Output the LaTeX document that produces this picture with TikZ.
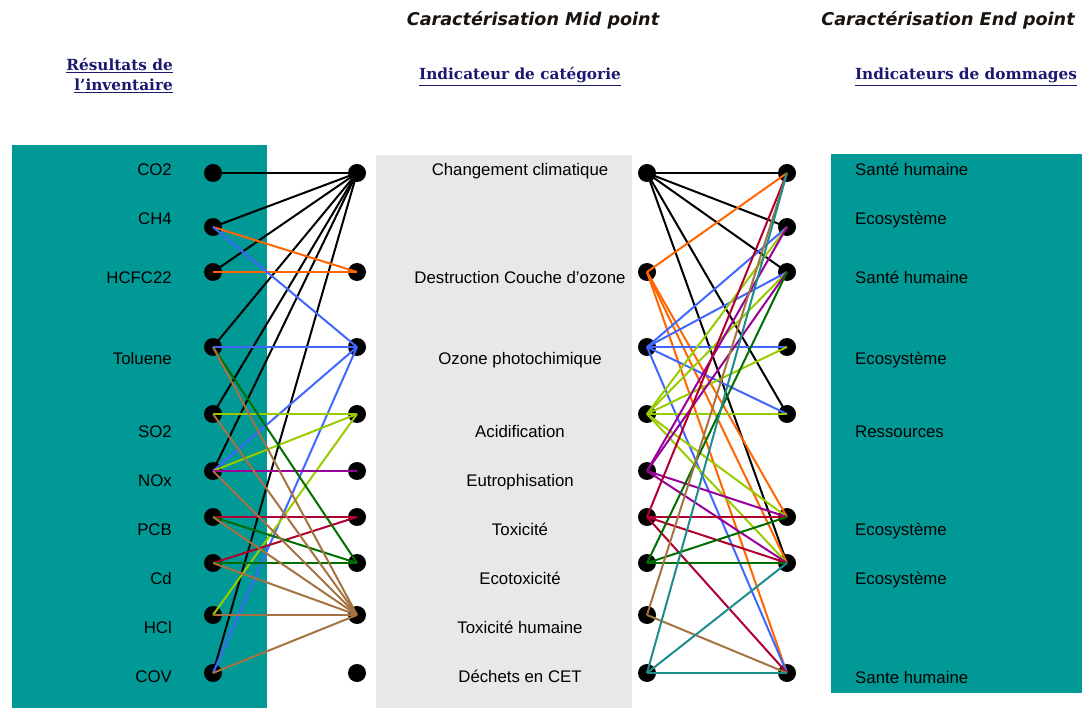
\documentclass[tikz,border=0pt]{standalone}
\usepackage{fontspec}
\setmainfont{Liberation Sans}
\newfontfamily\titlefont{DejaVu Sans}
\newfontfamily\headfont{DejaVu Serif}
\definecolor{tealbox}{RGB}{0,153,150}
\definecolor{greybox}{RGB}{232,232,232}
\definecolor{corange}{RGB}{255,102,0}
\definecolor{cblue}{RGB}{64,104,255}
\definecolor{cyg}{RGB}{153,204,0}
\definecolor{cpurple}{RGB}{153,0,153}
\definecolor{ccrim}{RGB}{176,0,48}
\definecolor{cdkgreen}{RGB}{0,110,0}
\definecolor{cbrown}{RGB}{165,115,65}
\definecolor{cteal}{RGB}{30,140,140}
\definecolor{navy}{RGB}{25,25,112}
\definecolor{titlecol}{RGB}{25,20,15}
\begin{document}
\begin{tikzpicture}[x=1pt,y=-1pt,
  dot/.style={circle, fill=black, minimum size=18pt, inner sep=0pt},
  lbl/.style={font=\fontsize{16.8}{20}\selectfont, inner sep=0pt},
  conn/.style={line width=2pt},
  titlestyle/.style={font=\titlefont\bfseries\itshape\fontsize{17.6}{20}\selectfont, text=titlecol, inner sep=0pt, anchor=base},
  headstyle/.style={font=\headfont\bfseries\fontsize{15.3}{18}\selectfont, text=navy, inner sep=0pt, anchor=base}]
\useasboundingbox (0,0) rectangle (1082,708);
% boxes
\fill[tealbox] (12,145) rectangle (267,708);
\fill[greybox] (376,155) rectangle (632,708);
\fill[tealbox] (831,154) rectangle (1082,693);
% headers
\node[titlestyle] (t1) at (533,26) {Caractérisation Mid point};
\node[titlestyle] (t2) at (948,26) {Caractérisation End point};
\node[headstyle] (h1) at (520,80) {\underline{Indicateur de catégorie}};
\node[headstyle] (h2) at (966,80) {\underline{Indicateurs de dommages}};
\node[headstyle, anchor=base east] (h3) at (173,71) {\underline{Résultats de}};
\node[headstyle, anchor=base east] (h4) at (173,91) {\underline{l’inventaire}};
% dots
\foreach \i/\y in {1/173,2/227,3/272,4/347,5/414,6/471,7/517,8/563,9/615,10/673}
  \node[dot] (L\i) at (213,\y) {};
\foreach \i/\y in {1/173,2/272,3/347,4/414,5/471,6/517,7/563,8/615,9/673}{
  \node[dot] (ML\i) at (357,\y) {};
  \node[dot] (M\i) at (647,\y) {};}
\foreach \i/\y in {1/173,2/227,3/272,4/347,5/414,6/517,7/563,8/673}
  \node[dot] (R\i) at (787,\y) {};
% labels
\foreach \i/\y/\t in {1/176/CO2,2/225/CH4,3/284/HCFC22,4/365/Toluene,5/438/SO2,6/486/NOx,7/535/PCB,8/584/Cd,9/633/HCl,10/682/COV}
  \node[lbl, anchor=base east] (tL\i) at (172,\y) {\t};
\foreach \i/\y/\t in {1/176/Changement climatique,2/284/Destruction Couche d’ozone,3/365/Ozone photochimique,4/438/Acidification,5/486/Eutrophisation,6/535/Toxicité,7/584/Ecotoxicité,8/633/Toxicité humaine,9/682/Déchets en CET}
  \node[lbl, anchor=base] (tM\i) at (520,\y) {\t};
\foreach \i/\y/\t in {1/176/Santé humaine,2/225/Ecosystème,3/284/Santé humaine,4/365/Ecosystème,5/438/Ressources,6/535/Ecosystème,7/584/Ecosystème,8/683/Sante humaine}
  \node[lbl, anchor=base west] (tR\i) at (855,\y) {\t};
% left connections
\foreach \a in {1,2,3,4,5,6,10} \draw[conn,black] (L\a.center) -- (ML1.center);
\foreach \a in {2,3} \draw[conn,corange] (L\a.center) -- (ML2.center);
\foreach \a in {2,4,6,10} \draw[conn,cblue] (L\a.center) -- (ML3.center);
\foreach \a in {5,6,9} \draw[conn,cyg] (L\a.center) -- (ML4.center);
\foreach \a in {6} \draw[conn,cpurple] (L\a.center) -- (ML5.center);
\foreach \a in {7,8} \draw[conn,ccrim] (L\a.center) -- (ML6.center);
\foreach \a in {4,7,8} \draw[conn,cdkgreen] (L\a.center) -- (ML7.center);
\foreach \a in {4,5,6,7,8,9,10} \draw[conn,cbrown] (L\a.center) -- (ML8.center);
% right connections
\foreach \b in {1,2,3,5,7} \draw[conn,black] (M1.center) -- (R\b.center);
\foreach \b in {1,6,7,8} \draw[conn,corange] (M2.center) -- (R\b.center);
\foreach \b in {2,3,4,5,8} \draw[conn,cblue] (M3.center) -- (R\b.center);
\foreach \b in {2,3,4,5,6,7} \draw[conn,cyg] (M4.center) -- (R\b.center);
\foreach \b in {2,3,6,7} \draw[conn,cpurple] (M5.center) -- (R\b.center);
\foreach \b in {1,6,7,8} \draw[conn,ccrim] (M6.center) -- (R\b.center);
\foreach \b in {3,6,7} \draw[conn,cdkgreen] (M7.center) -- (R\b.center);
\foreach \b in {1,8} \draw[conn,cbrown] (M8.center) -- (R\b.center);
\foreach \b in {1,7,8} \draw[conn,cteal] (M9.center) -- (R\b.center);
\end{tikzpicture}
\end{document}
